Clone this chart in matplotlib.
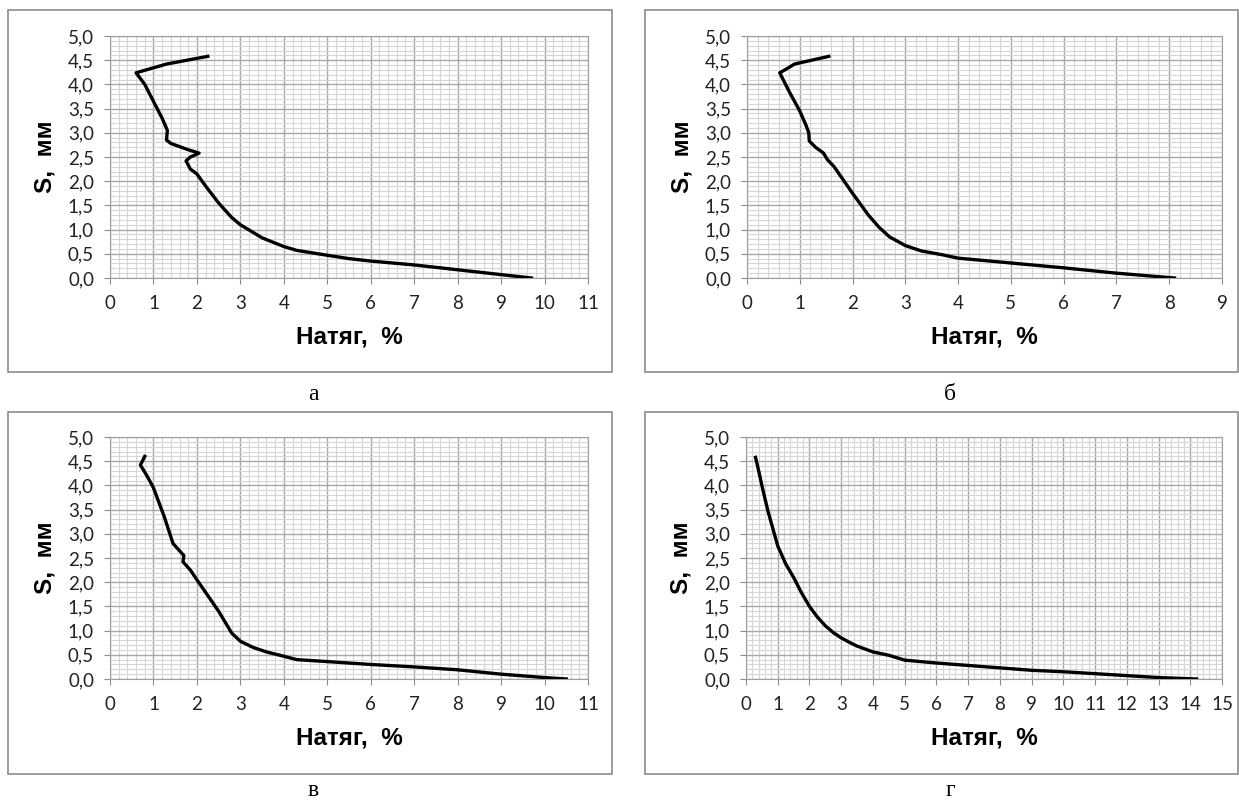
import matplotlib
matplotlib.use("Agg")
import matplotlib.pyplot as plt
from matplotlib.patches import Rectangle
from matplotlib.ticker import MultipleLocator, FuncFormatter

# Натяг, % и S, мм для четырёх образцов
natyag_a = [2.25, 1.3, 0.6, 0.8, 1.0, 1.2, 1.32, 1.3, 1.4, 1.8, 2.05, 1.85, 1.75, 1.85, 2.0,
            2.2, 2.5, 2.8, 3.0, 3.5, 4.0, 4.3, 5.0, 5.5, 6.0, 7.0, 8.0, 9.0, 9.7]
s_a = [4.58, 4.42, 4.24, 4.0, 3.65, 3.3, 3.05, 2.85, 2.78, 2.65, 2.58, 2.5, 2.42, 2.25, 2.15,
       1.9, 1.55, 1.25, 1.1, 0.83, 0.65, 0.57, 0.47, 0.4, 0.35, 0.27, 0.17, 0.07, 0.0]

natyag_b = [1.55, 0.9, 0.75, 0.62, 0.8, 1.0, 1.12, 1.17, 1.18, 1.3, 1.45, 1.52, 1.65, 2.0,
            2.3, 2.5, 2.7, 3.0, 3.3, 3.7, 4.0, 5.0, 6.0, 7.0, 8.1]
s_b = [4.58, 4.42, 4.32, 4.24, 3.85, 3.45, 3.15, 3.0, 2.83, 2.7, 2.58, 2.45, 2.3, 1.75,
       1.3, 1.05, 0.85, 0.67, 0.56, 0.48, 0.41, 0.31, 0.21, 0.1, 0.0]

natyag_v = [0.8, 0.7, 0.85, 1.0, 1.25, 1.45, 1.6, 1.7, 1.68, 1.85, 2.0, 2.5, 2.8, 3.0, 3.3,
            3.6, 4.0, 4.3, 5.0, 6.0, 7.0, 8.0, 9.0, 10.0, 10.5]
s_v = [4.6, 4.42, 4.2, 3.95, 3.35, 2.8, 2.65, 2.55, 2.42, 2.25, 2.05, 1.4, 0.95, 0.78, 0.65,
       0.56, 0.47, 0.4, 0.36, 0.3, 0.25, 0.19, 0.1, 0.03, 0.0]

natyag_g = [0.3, 0.4, 0.5, 0.6, 0.7, 0.85, 1.0, 1.25, 1.5, 1.75, 2.0, 2.25, 2.5, 2.75, 3.0,
            3.25, 3.5, 4.0, 4.5, 5.0, 6.0, 7.0, 8.0, 9.0, 10.0, 11.0, 12.0, 13.0, 14.2]
s_g = [4.58, 4.3, 4.0, 3.72, 3.45, 3.1, 2.75, 2.38, 2.1, 1.78, 1.5, 1.28, 1.1, 0.96, 0.85,
       0.76, 0.68, 0.56, 0.49, 0.39, 0.33, 0.28, 0.23, 0.18, 0.15, 0.11, 0.07, 0.03, 0.0]

x_max = [11, 9, 11, 15]
podpisi = ["а", "б", "в", "г"]

W, H = 1239, 805
fig = plt.figure(figsize=(W / 100, H / 100), dpi=100)

# рамки графиков (в пикселях), области построения
ramki = [(8, 10, 604, 362), (645, 10, 593, 362), (8, 412, 604, 362), (645, 412, 593, 362)]
oblasti = [(110, 36, 478, 242), (747, 36, 475, 242), (110, 437, 478, 242), (746, 437, 476, 242)]
podp_xy = [(313, 394), (950, 394), (313, 790), (950, 790)]

dannye = [(natyag_a, s_a), (natyag_b, s_b), (natyag_v, s_v), (natyag_g, s_g)]

zapyataya = FuncFormatter(lambda v, p: f"{v:.1f}".replace(".", ","))

for i in range(4):
    fx, fy, fw, fh = ramki[i]
    fig.patches.append(Rectangle((fx / W, 1 - (fy + fh) / H), fw / W, fh / H,
                                 transform=fig.transFigure, fill=False,
                                 edgecolor="#8c8c8c", linewidth=1.2))
    ax_x, ax_y, ax_w, ax_h = oblasti[i]
    ax = fig.add_axes([ax_x / W, 1 - (ax_y + ax_h) / H, ax_w / W, ax_h / H])
    x, y = dannye[i]
    ax.plot(x, y, color="black", linewidth=2.4, zorder=5)
    ax.set_xlim(0, x_max[i])
    ax.set_ylim(0, 5)
    ax.xaxis.set_major_locator(MultipleLocator(1))
    ax.xaxis.set_minor_locator(MultipleLocator(0.2))
    ax.yaxis.set_major_locator(MultipleLocator(0.5))
    ax.yaxis.set_minor_locator(MultipleLocator(0.1))
    ax.yaxis.set_major_formatter(zapyataya)
    ax.grid(which="minor", color="#d6d6d6", linewidth=0.8)
    ax.grid(which="major", color="#a8a8a8", linewidth=1.0)
    ax.set_axisbelow(True)
    for sp in ax.spines.values():
        sp.set_color("#a0a0a0")
    ax.tick_params(which="major", direction="out", length=4.5, color="#8c8c8c",
                   labelsize=13.5, labelcolor="#222222")
    ax.tick_params(axis="x", pad=8)
    ax.tick_params(axis="y", pad=7)
    ax.tick_params(which="minor", length=0)
    for lab in ax.get_xticklabels() + ax.get_yticklabels():
        lab.set_family("Lato")
    ax.set_xlabel("Натяг,  %", fontsize=17.5, fontweight="bold", family="Liberation Sans")
    ax.set_ylabel("S,  мм", fontsize=17.5, fontweight="bold", family="Liberation Sans")
    ax.xaxis.label.set_va("center")
    ax.yaxis.label.set_va("center")
    ax.xaxis.set_label_coords(0.5, -59 / ax_h)
    ax.yaxis.set_label_coords(-65 / ax_w, 0.5)
    px, py = podp_xy[i]
    fig.text(px / W, 1 - py / H, podpisi[i], ha="center", va="center",
             fontsize=17, family="Liberation Serif")

fig.savefig("out.png", dpi=100)
